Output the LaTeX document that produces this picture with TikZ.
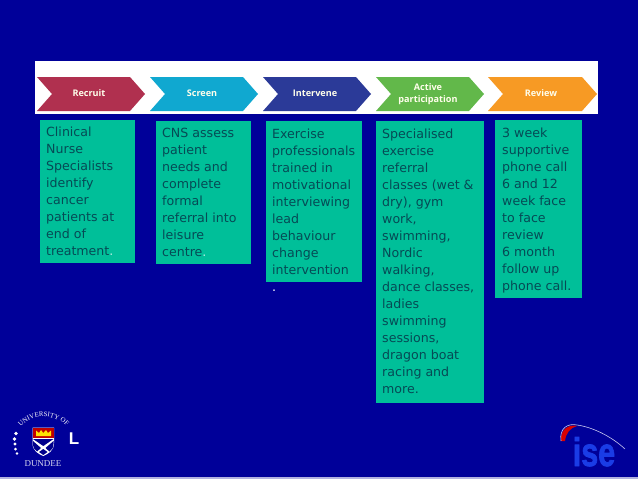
\documentclass[tikz,border=0pt]{standalone}
\usepackage{fontspec}
\setmainfont{DejaVu Sans}
\newfontfamily\serifname{Liberation Serif}
\newfontfamily\headfont{Open Sans}
\newfontfamily\isefont[FakeBold=2]{Liberation Sans}
\newfontfamily\ellfont{Liberation Sans}
\usetikzlibrary{decorations.text}
\definecolor{bgblue}{HTML}{000099}
\definecolor{boxgreen}{HTML}{00BF99}
\definecolor{boxtext}{HTML}{064A55}
\definecolor{crecruit}{HTML}{B0304F}
\definecolor{cscreen}{HTML}{10A8D0}
\definecolor{cinter}{HTML}{2B3A98}
\definecolor{cactive}{HTML}{62B84A}
\definecolor{creview}{HTML}{F79A24}
\definecolor{isewhite}{HTML}{C8C8F0}
\definecolor{iseblue}{HTML}{1A3CE6}
\tikzset{
  x=1pt,y=-1pt,
  infotext/.style={text=boxtext,anchor=north west,align=left,inner sep=0pt,
    font=\fontsize{12.6}{17}\selectfont},
  headtext/.style={text=white!92!yellow,align=center,inner sep=0pt,
    font=\headfont\bfseries\fontsize{9.1}{11.5}\selectfont},
  dot/.style={fill=white,draw=none,circle,inner sep=0pt,minimum size=1.6pt},
}
\newcommand{\chev}[3]{%
  \fill[#3] (#1,77) -- (#2-15,77) -- (#2,94) -- (#2-15,111) -- (#1,111) -- (#1+15,94) -- cycle;}
\begin{document}
\begin{tikzpicture}
\useasboundingbox (0,0) rectangle (638,479);
\fill[bgblue] (0,0) rectangle (638,479);
\fill[white!70!bgblue] (0,477) rectangle (638,479);
% band
\fill[white] (35,61) rectangle (598,113.5);
\chev{37}{145}{crecruit}
\chev{150}{258}{cscreen}
\chev{263}{371}{cinter}
\chev{376}{484}{cactive}
\chev{488}{597}{creview}
\node[headtext] (hrecruit) at (89,93.5) {Recruit};
\node[headtext] (hscreen) at (202,93.5) {Screen};
\node[headtext] (hinter) at (315,93.5) {Intervene};
\node[headtext] (hactive) at (428,94) {Active\\participation};
\node[headtext] (hreview) at (541,93.5) {Review};
% boxes
\fill[boxgreen] (40,119.5) rectangle (135,263);
\fill[boxgreen] (156,120.5) rectangle (251,264);
\fill[boxgreen] (266,121) rectangle (362,282);
\fill[boxgreen] (376,121) rectangle (484,403);
\fill[boxgreen] (495,120) rectangle (582,298);
\node[infotext] (t1) at (46,126.6) {Clinical\\Nurse\\Specialists\\identify\\cancer\\patients at\\end of\\treatment\textcolor{white!70!boxgreen}{.}};
\node[infotext] (t2) at (162,127.6) {CNS assess\\patient\\needs and\\complete\\formal\\referral into\\leisure\\centre\textcolor{white!70!boxgreen}{.}};
\node[infotext] (t3) at (272,128.6) {Exercise\\professionals\\trained in\\motivational\\interviewing\\lead\\behaviour\\change\\intervention\\\textcolor{white}{.}};
\node[infotext] (t4) at (382,128.6) {Specialised\\exercise\\referral\\classes (wet \&\\dry), gym\\work,\\swimming,\\Nordic\\walking,\\dance classes,\\ladies\\swimming\\sessions,\\dragon boat\\racing and\\more.};
\node[infotext] (t5) at (502,127.6) {3 week\\supportive\\phone call\\6 and 12\\week face\\to face\\review\\6 month\\follow up\\phone call.};
% Dundee logo
\path[postaction={decorate,decoration={text along path,text align=center,
  text={|\serifname\fontsize{6.8}{7}\selectfont\color{white}|UNIVERSITY OF}}}]
  (19,430) .. controls (28,414) and (55,411) .. (69,429);
\node[dot,minimum size=3.8pt] (d1) at (16,433.5) {};
\node[dot,minimum size=3.6pt] (d2) at (14.5,439) {};
\node[dot,minimum size=3.4pt] (d3) at (15,444) {};
\node[dot,minimum size=3pt] (d4) at (15.5,449) {};
\node[dot,minimum size=2.6pt] (d5) at (17,453.5) {};
% shield
\fill[white] (32.5,427.5) -- (54,427.5) -- (54,443) .. controls (54,451) and (48,454) .. (43.3,456) .. controls (38.5,454) and (32.5,451) .. (32.5,443) -- cycle;
\fill[red!75!black] (33,428) rectangle (53.5,438);
\fill[yellow!85!orange] (36,436) -- (36,430.5) -- (39,433) -- (41,430) -- (43.3,433) -- (46,430) -- (48,433) -- (51,430.5) -- (51,436) -- cycle;
\fill[blue!55!black] (33,439) -- (43.3,446) -- (53.5,439) -- cycle;
\fill[blue!55!black] (33,441) -- (33,444) .. controls (33,448) and (35,450) .. (37,451.5) -- (41,448) -- cycle;
\fill[blue!55!black] (53.5,441) -- (53.5,444) .. controls (53.5,448) and (51.5,450) .. (49.5,451.5) -- (45.5,448) -- cycle;
\fill[blue!55!black] (39,452) -- (43.3,449) -- (47.5,452) -- (43.3,455) -- cycle;
\node[text=white,inner sep=0pt,font=\ellfont\bfseries\fontsize{17}{17}\selectfont] (logol) at (74,439) {L};
\node[text=white!85!bgblue,inner sep=0pt,font=\serifname\fontsize{9}{9}\selectfont] (dundee) at (43,464) {DUNDEE};
% ise logo
\fill[red!85!black] (561,441) .. controls (560,430) and (568,424) .. (577,426) .. controls (570,428) and (566,433) .. (565,441) -- cycle;
\draw[isewhite,line width=.6pt] (561,441) .. controls (559,428) and (568,423) .. (577,425) .. controls (592,427) and (611,436) .. (625,449);
\node[text=iseblue,inner sep=0pt,anchor=base,font=\isefont\bfseries\fontsize{40}{40}\selectfont,xscale=.76] (iselogo) at (594,466) {ise};
\end{tikzpicture}
\end{document}
